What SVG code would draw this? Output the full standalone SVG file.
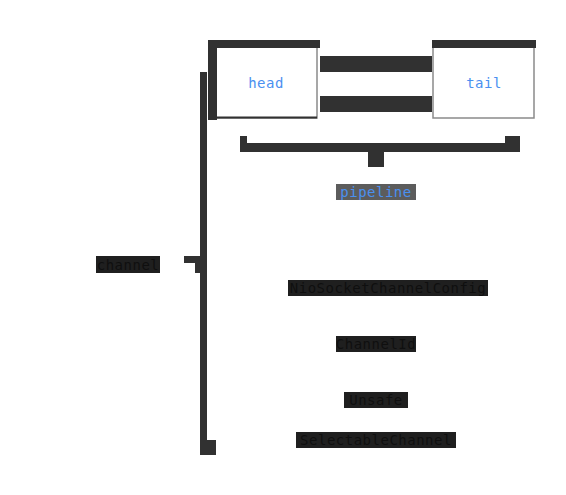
<svg xmlns="http://www.w3.org/2000/svg" width="566" height="495" viewBox="0 0 566 495">
<style>
.bar{fill:#313131}
.box{fill:#ffffff;stroke:#8a8a8a;stroke-width:1.5}
.t{font-family:"DejaVu Sans Mono",monospace;font-size:14px;letter-spacing:0.5px;text-anchor:middle;dominant-baseline:central}
.blue{fill:#4a90f0}
.lbl{fill:#1f1f1f}
.lt{fill:#0f0f0f}
</style>
<rect width="566" height="495" fill="#ffffff"/>
<g id="connectors">
<rect class="bar" x="200" y="72" width="7" height="383"/>
<rect class="bar" x="200" y="440" width="16" height="15"/>
<rect class="bar" x="184" y="256" width="16" height="7"/>
<rect class="bar" x="195" y="256" width="12" height="17"/>
<rect class="bar" x="320" y="56" width="112" height="16"/>
<rect class="bar" x="320" y="96" width="112" height="16"/>
<rect class="bar" x="240" y="143" width="280" height="9"/>
<rect class="bar" x="240" y="136" width="7" height="16"/>
<rect class="bar" x="505" y="136" width="15" height="16"/>
<rect class="bar" x="368" y="152" width="16" height="15"/>
</g>
<g id="head">
<rect class="box" x="216" y="47" width="101" height="71"/>
<rect class="bar" x="216" y="116.5" width="101" height="2"/>
<rect class="bar" x="208" y="40" width="112" height="8"/>
<rect class="bar" x="208" y="40" width="9" height="80"/>
<text class="t blue" x="266" y="83">head</text>
</g>
<g id="tail">
<rect class="box" x="433" y="47" width="101" height="71"/>
<rect class="bar" x="432" y="40" width="104" height="8"/>
<text class="t blue" x="484" y="83">tail</text>
</g>
<g id="pipeline">
<rect x="336" y="184" width="80" height="16" fill="#5c5c5c"/>
<text class="t blue" x="376" y="192">pipeline</text>
</g>
<g id="channel">
<rect class="lbl" x="96" y="256" width="64" height="17"/>
<text class="t lt" x="128" y="264.5">channel</text>
</g>
<g id="config">
<rect class="lbl" x="288" y="280" width="200" height="16"/>
<text class="t lt" x="388" y="288">NioSocketChannelConfig</text>
</g>
<g id="channelid">
<rect class="lbl" x="336" y="336" width="80" height="16"/>
<text class="t lt" x="376" y="344">ChannelId</text>
</g>
<g id="unsafe">
<rect class="lbl" x="344" y="392" width="64" height="16"/>
<text class="t lt" x="376" y="400">Unsafe</text>
</g>
<g id="selectable">
<rect class="lbl" x="296" y="432" width="160" height="16"/>
<text class="t lt" x="376" y="440">SelectableChannel</text>
</g>
</svg>
